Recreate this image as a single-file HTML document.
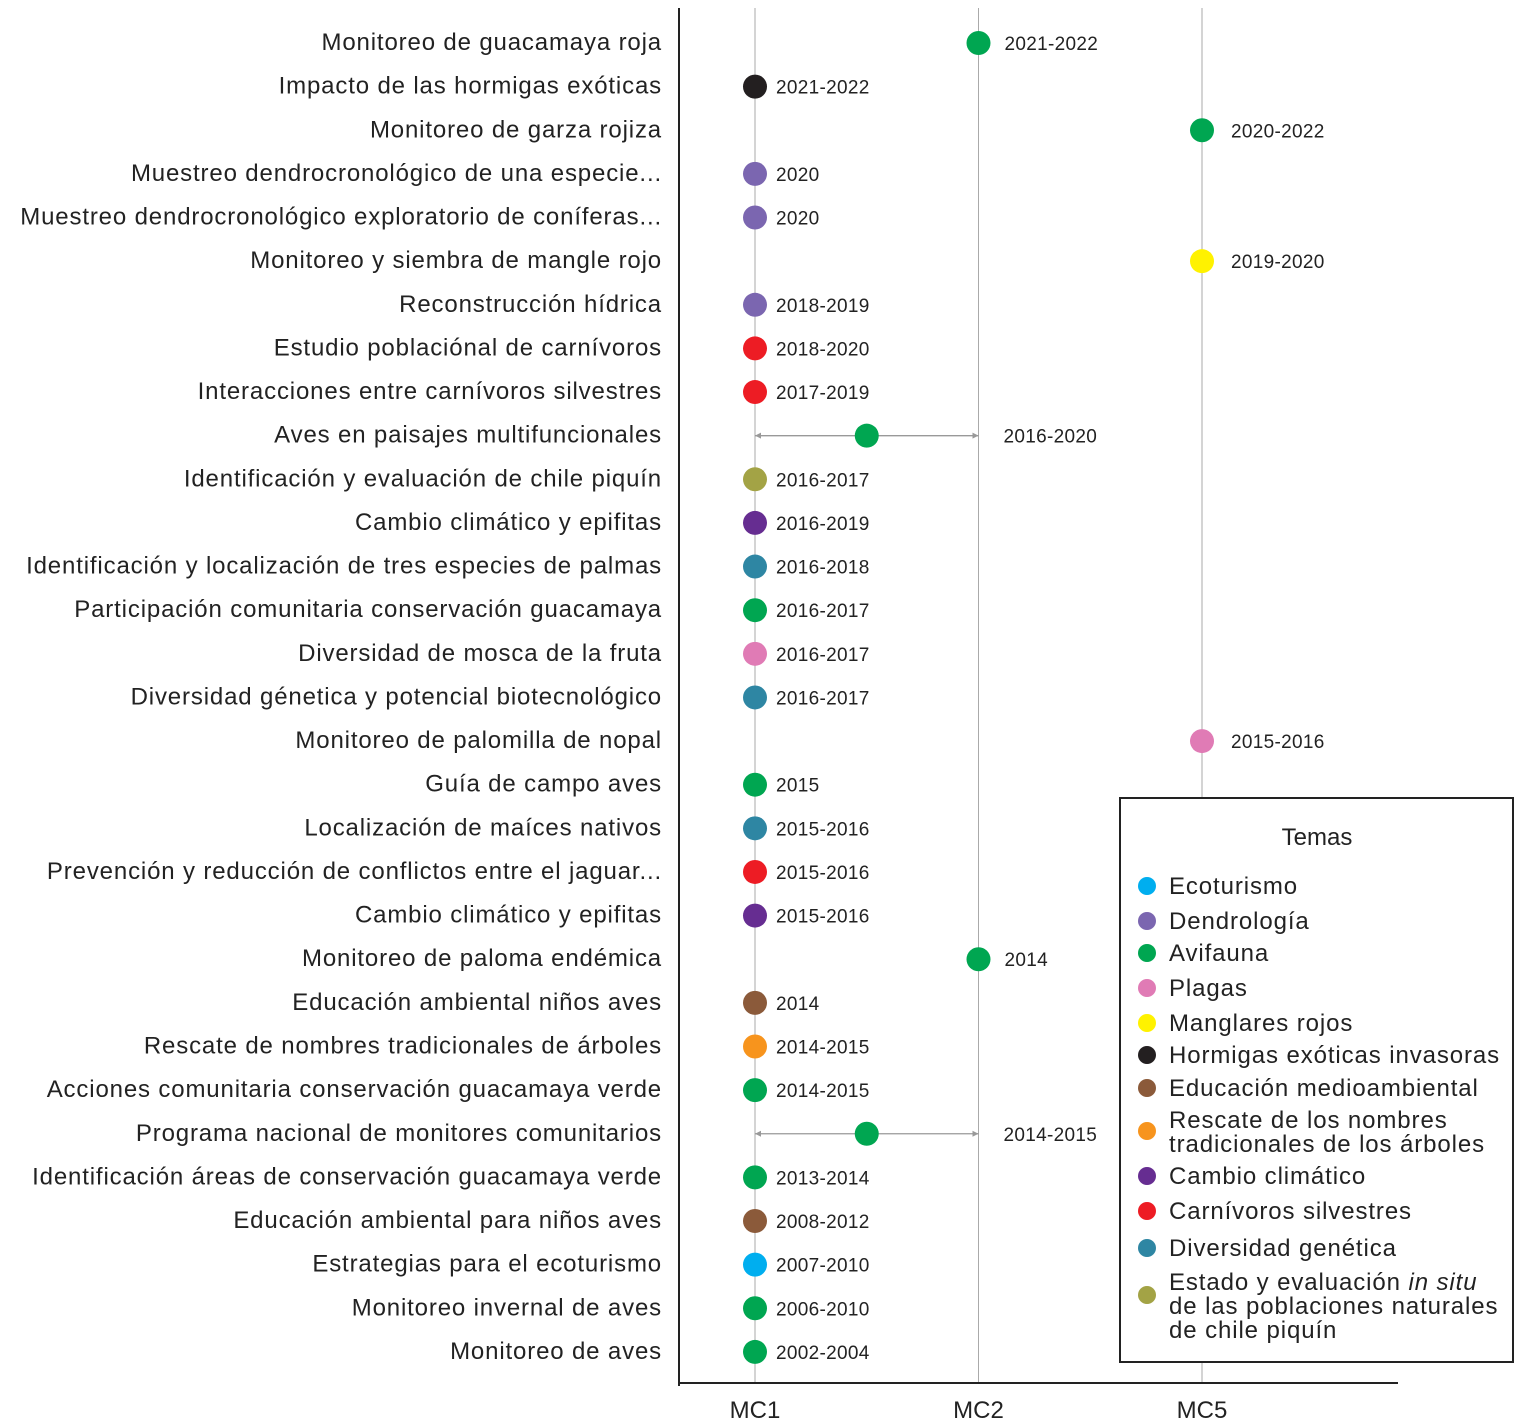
<!DOCTYPE html>
<html><head><meta charset="utf-8"><style>
body{margin:0;background:#fff}
svg{display:block;font-family:"Liberation Sans",Arial,sans-serif}
</style></head><body>
<svg id="chart" width="1526" height="1424" viewBox="0 0 1526 1424"></svg>
<script>
const labels=["Monitoreo de guacamaya roja","Impacto de las hormigas exóticas","Monitoreo de garza rojiza","Muestreo dendrocronológico de una especie...","Muestreo dendrocronológico exploratorio de coníferas...","Monitoreo y siembra de mangle rojo","Reconstrucción hídrica","Estudio poblaciónal de carnívoros","Interacciones entre carnívoros silvestres","Aves en paisajes multifuncionales","Identificación y evaluación de chile piquín","Cambio climático y epifitas","Identificación y localización de tres especies de palmas","Participación comunitaria conservación guacamaya","Diversidad de mosca de la fruta","Diversidad génetica y potencial biotecnológico","Monitoreo de palomilla de nopal","Guía de campo aves","Localización de maíces nativos","Prevención y reducción de conflictos entre el jaguar...","Cambio climático y epifitas","Monitoreo de paloma endémica","Educación ambiental niños aves","Rescate de nombres tradicionales de árboles","Acciones comunitaria conservación guacamaya verde","Programa nacional de monitores comunitarios","Identificación áreas de conservación guacamaya verde","Educación ambiental para niños aves","Estrategias para el ecoturismo","Monitoreo invernal de aves","Monitoreo de aves"];
const positions=[1,0,2,0,0,2,0,0,0,0.5,0,0,0,0,0,0,2,0,0,0,0,1,0,0,0,0.5,0,0,0,0,0];
const themes=[2,5,2,1,1,4,1,9,9,2,11,8,10,2,3,10,3,2,10,9,8,2,6,7,2,2,2,6,0,2,2];
const periods=["2021-2022","2021-2022","2020-2022","2020","2020","2019-2020","2018-2019","2018-2020","2017-2019","2016-2020","2016-2017","2016-2019","2016-2018","2016-2017","2016-2017","2016-2017","2015-2016","2015","2015-2016","2015-2016","2015-2016","2014","2014","2014-2015","2014-2015","2014-2015","2013-2014","2008-2012","2007-2010","2006-2010","2002-2004"];
const xTicks=["MC1","MC2","MC5"];
const themeNames=["Ecoturismo","Dendrología","Avifauna","Plagas","Manglares rojos","Hormigas exóticas invasoras","Educación medioambiental","Rescate de los nombres\ntradicionales de los árboles","Cambio climático","Carnívoros silvestres","Diversidad genética","Estado y evaluación in situ\nde las poblaciones naturales\nde chile piquín"];
const themeColors=["#00aeef","#7b66b0","#00a651","#e07bb5","#fff200","#231f20","#8b5a3a","#f7941d","#662d91","#ed1c24","#2e86a3","#a3a345"];

const NS="http://www.w3.org/2000/svg";
const svg=document.getElementById('chart');
function mk(t,a,p){const e=document.createElementNS(NS,t);for(const k in a)e.setAttribute(k,a[k]);(p||svg).appendChild(e);return e;}
const xS=v=>755+v*223.5;
const yS=i=>43+i*43.63;

xTicks.forEach((t,i)=>{
  const l=mk('line',{x1:xS(i),x2:xS(i),y1:8,y2:1383,stroke:'#aaa','stroke-width':1});
  
  
  const tx=mk('text',{x:xS(i),y:1418,'font-size':24,'text-anchor':'middle',fill:'#222'});
  tx.textContent=t;
  
  
});
const ya=mk('line',{x1:679,x2:679,y1:8,y2:1386,stroke:'#222','stroke-width':2});


const xa=mk('line',{x1:679,x2:1398,y1:1383,y2:1383,stroke:'#222','stroke-width':2});



labels.forEach((lab,i)=>{
  const y=yS(i);
  const t=mk('text',{x:662,y:y+7,'font-size':24,'letter-spacing':'0.85','text-anchor':'end',fill:'#222'});
  t.textContent=lab;
  
  
  const p=positions[i];
  if(p%1!==0){
    const r=mk('line',{x1:xS(Math.floor(p)),x2:xS(Math.ceil(p)),y1:y,y2:y,stroke:'#999','stroke-width':1.3});
    
    
    mk('path',{d:`M${xS(Math.floor(p))} ${y}l6 -3v6z`,fill:'#999'});
    mk('path',{d:`M${xS(Math.ceil(p))} ${y}l-6 -3v6z`,fill:'#999'});
  }
  const c=mk('circle',{cx:xS(p),cy:y,r:12,fill:themeColors[themes[i]]});
  
  
  const offs=[21,26,29];
  const tx=p%1!==0?xS(Math.ceil(p))+25:xS(p)+offs[p];
  const v=mk('text',{x:tx,y:y+7,'font-size':19,'letter-spacing':'0.3',fill:'#222'});
  v.textContent=periods[i];
  
  
});

const lg=mk('g',{});


mk('rect',{x:1120,y:798,width:393,height:564,fill:'#fff',stroke:'#222','stroke-width':2},lg);
const lt=mk('text',{x:1317,y:845,'font-size':24,'text-anchor':'middle',fill:'#222'},lg);
lt.textContent='Temas';
const lys=[886,921,953,988,1023,1055,1088,1131,1176,1211,1248,1295];
const firstLine=[886,921,953,988,1023,1055,1088,1120,1176,1211,1248,1282];
themeNames.forEach((n,i)=>{
  const g=mk('g',{},lg);
  
  
  mk('circle',{cx:1147,cy:lys[i],r:9,fill:themeColors[i]},g);
  const lines=n.split('\n');
  lines.forEach((ln,k)=>{
    const t=mk('text',{x:1169,y:firstLine[i]+k*24+8,'font-size':24,'letter-spacing':'0.9',fill:'#222'},g);
    if(ln.includes('in situ')){
      const [a,b]=ln.split('in situ');
      t.appendChild(document.createTextNode(a));
      const ts=mk('tspan',{'font-style':'italic'},t);ts.textContent='in situ';
      t.appendChild(document.createTextNode(b));
    } else t.textContent=ln;
  });
});
</script>
</body></html>
